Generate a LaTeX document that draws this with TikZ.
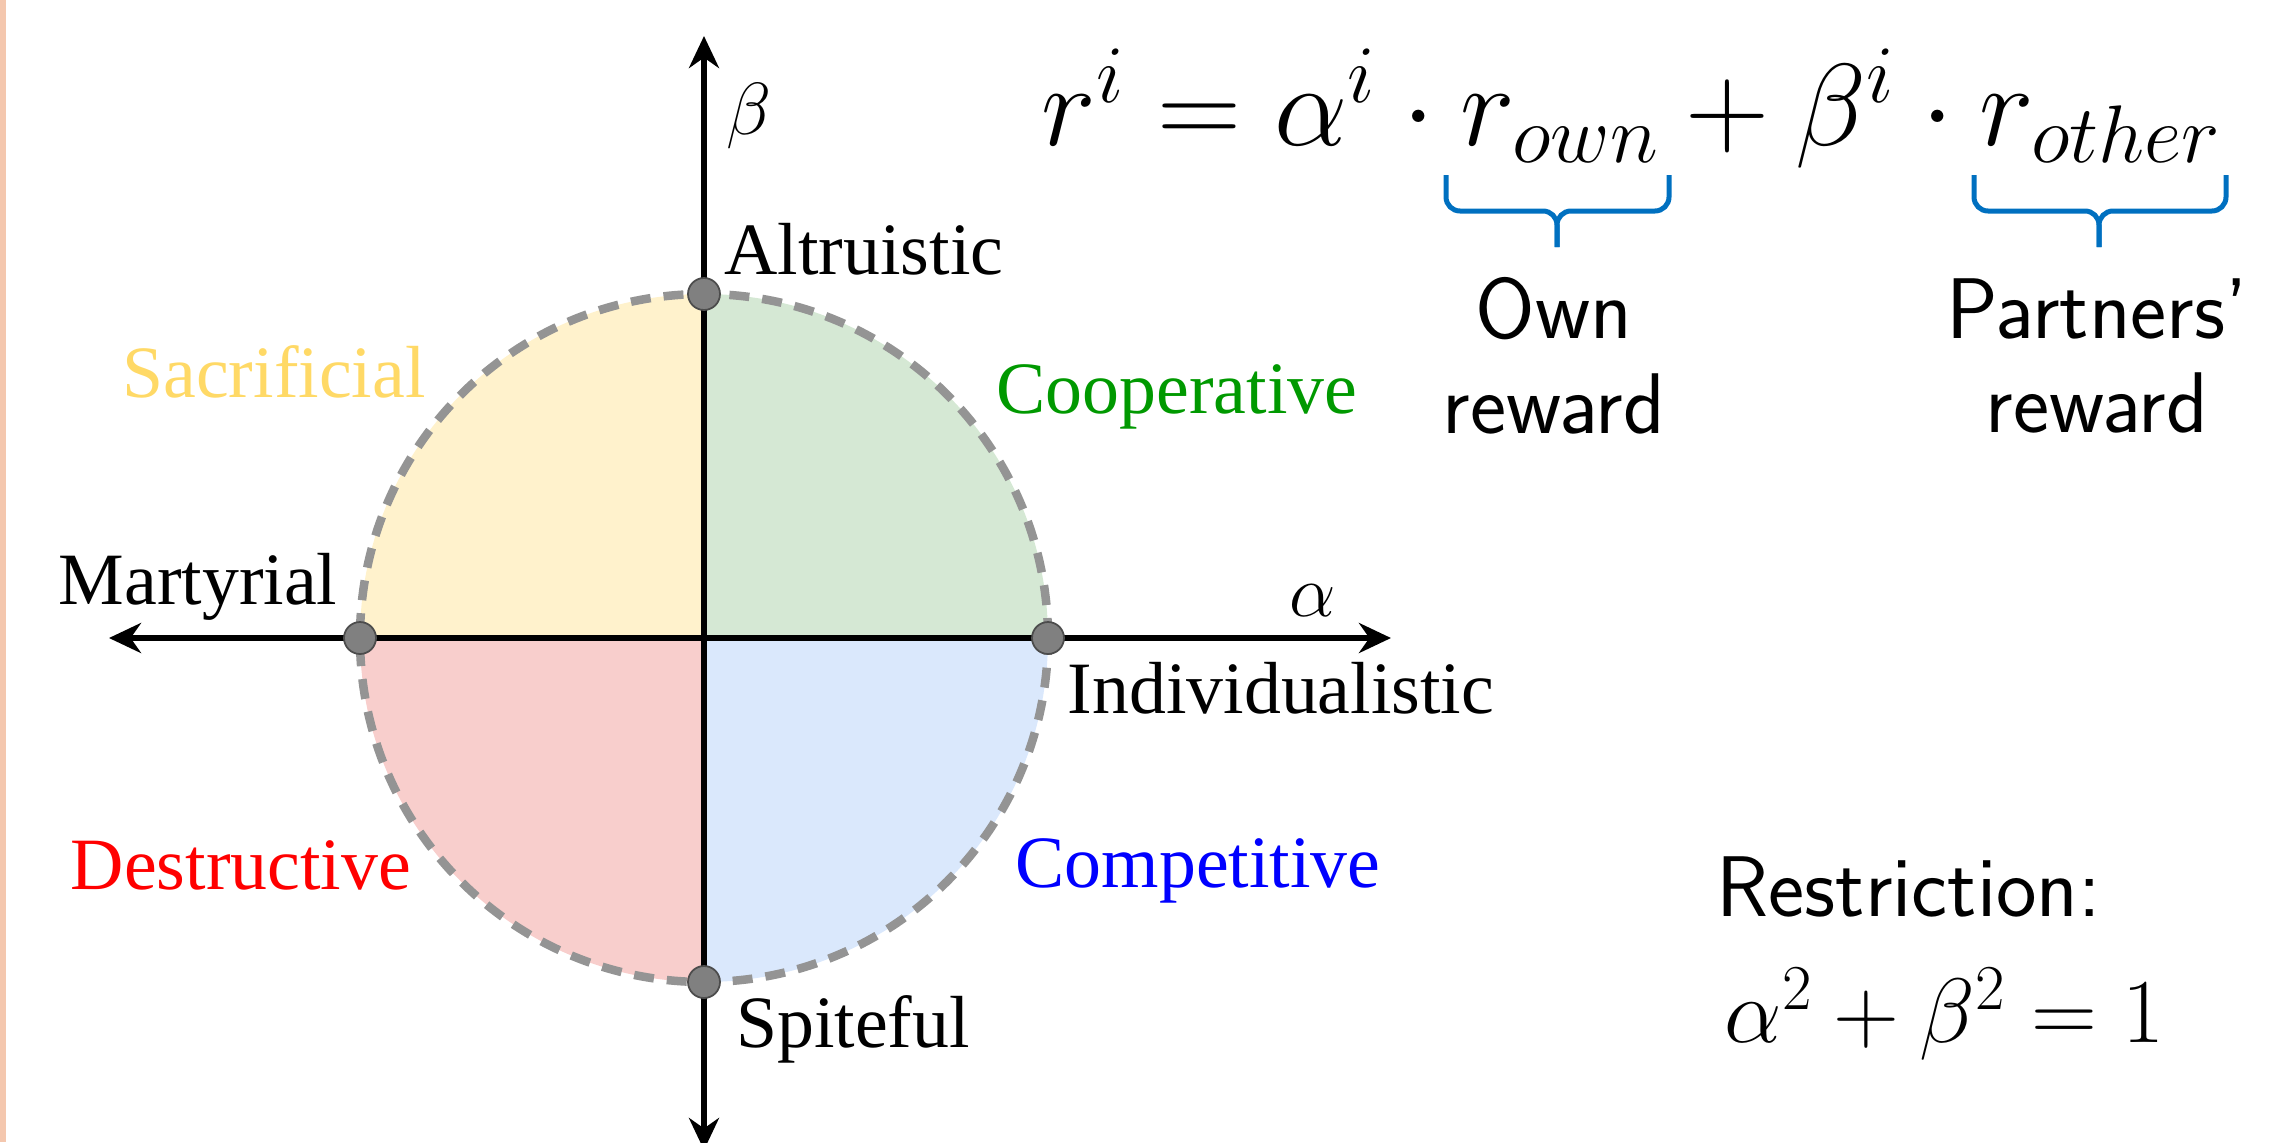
\RequirePackage{fix-cm}
\documentclass[tikz,border=0pt]{standalone}
\usepackage{amsmath,amssymb}
\usepackage{fontspec}
\usepackage{xcolor}
\usepackage{tikz}
\usetikzlibrary{calc,arrows.meta,positioning}
\newfontfamily\lblfont{Liberation Serif}
\definecolor{yelq}{HTML}{FFF2CC}
\definecolor{grnq}{HTML}{D5E8D4}
\definecolor{redq}{HTML}{F8CECC}
\definecolor{bluq}{HTML}{DAE8FC}
\definecolor{yelt}{HTML}{FFD966}
\definecolor{grnt}{HTML}{009900}
\definecolor{bract}{HTML}{0070C0}
\definecolor{dotg}{HTML}{808080}
\definecolor{edgex}{HTML}{F4C7AE}
\tikzset{
  ax/.style={{Stealth[length=3.2mm,width=3mm]}-{Stealth[length=3.2mm,width=3mm]},line width=0.55mm},
  rim/.style={draw=black!42,line width=0.85mm,dash pattern=on 2mm off 1.3mm},
  pt/.style={circle,draw=black!70,fill=dotg,minimum size=3.2mm,inner sep=0pt,line width=0.5pt},
  lb/.style={font=\lblfont\fontsize{21}{25}\selectfont,inner sep=0pt},
  sf/.style={font=\sffamily\fontsize{24.5}{27}\selectfont,align=center,inner sep=0pt},
  brc/.style={bract,line width=0.5mm,rounded corners=1.4mm}
}
\begin{document}
\begin{tikzpicture}
\useasboundingbox (-7.04,-5.04) rectangle (15.68,6.38);
\fill[edgex] (-7.04,-5.04) rectangle (-6.98,6.38);
% quadrants
\fill[grnq] (0,0) -- (3.44,0) arc (0:90:3.44) -- cycle;
\fill[yelq] (0,0) -- (0,3.44) arc (90:180:3.44) -- cycle;
\fill[redq] (0,0) -- (-3.44,0) arc (180:270:3.44) -- cycle;
\fill[bluq] (0,0) -- (0,-3.44) arc (270:360:3.44) -- cycle;
\draw[rim] (0,0) circle (3.44);
% axes
\coordinate (xl) at (-5.95,0);
\coordinate (xr) at (6.87,0);
\coordinate (yt) at (0,6.02);
\coordinate (yb) at (0,-5.12);
\draw[ax] (xl) -- (xr);
\draw[ax] (yb) -- (yt);
\foreach \a/\n in {0/ind,90/alt,180/mar,270/spi}{\node[pt] (\n) at (\a:3.44) {};}
\node[lb] (beta) at (0.45,5.22) {$\beta$};
\node[lb] (alpha) at (6.09,0.37) {$\alpha$};
% labels
\node[lb] (altl) at (1.60,3.89) {Altruistic};
\node[lb] (marl) at (-5.06,0.51) {Martyrial};
\node[lb] (indl) at (5.77,-0.50) {Individualistic};
\node[lb] (spil) at (1.49,-3.91) {Spiteful};
\node[lb,text=yelt] (sac) at (-4.30,2.66) {Sacrificial};
\node[lb,text=grnt] (coop) at (4.73,2.41) {Cooperative};
\node[lb,text=red] (dest) at (-4.63,-2.27) {Destructive};
\node[lb,text=blue] (comp) at (4.94,-2.33) {Competitive};
% reward
\node[anchor=base west,inner sep=0pt,font=\fontsize{33.2}{40}\selectfont] (eq) at (3.37,4.93)
  {$r^i = \alpha^i \cdot r_{own} + \beta^i \cdot r_{other}$};
\foreach \a/\c/\b in {7.42/8.53/9.65,12.70/13.95/15.22}{
  \draw[brc] (\a,4.63) |- (\c,4.27) -- (\c,3.91);
  \draw[brc] (\b,4.63) |- (\c,4.27) -- (\c,3.91);
}
\node[sf] (own) at (8.50,2.82) {Own\\reward};
\node[sf] (part) at (13.93,2.82) {Partners'\\reward};
\node[sf,anchor=west] (restr) at (10.12,-2.49) {Restriction:};
\node[anchor=west,inner sep=0pt,font=\fontsize{26}{30}\selectfont] (cons) at (10.20,-3.76) {$\alpha^2+\beta^2=1$};
\end{tikzpicture}
\end{document}
